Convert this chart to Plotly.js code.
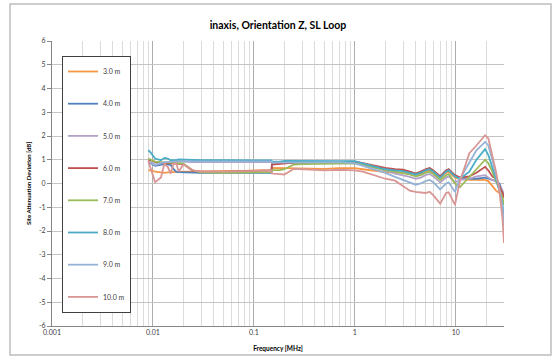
<!DOCTYPE html>
<html>
<head>
<meta charset="utf-8">
<script src="https://cdn.plot.ly/plotly-3.0.1.min.js"></script>
<style>
html,body{margin:0;padding:0;background:#fff;}
#chart{width:560px;height:362px;}
</style>
</head>
<body>
<div id="chart"></div>
<script>
// Frequency points [MHz]
var freq = [0.009, 0.0095, 0.0105, 0.012, 0.013, 0.014, 0.015, 0.016, 0.017, 0.018, 0.02, 0.025, 0.03, 0.05, 0.08, 0.1, 0.149, 0.151, 0.18, 0.2, 0.25, 0.3, 0.5, 0.7, 1, 1.2, 1.5, 2, 2.5, 3, 3.5, 4, 4.5, 5, 5.5, 6, 7, 8, 8.5, 9, 9.8, 11, 13.6, 16, 19.5, 21, 23, 25, 27, 29, 30];

var names = ["3.0 m", "4.0 m", "5.0 m", "6.0 m", "7.0 m", "8.0 m", "9.0 m", "10.0 m"];

var d3m  = [0.55, 0.56, 0.5, 0.45, 0.45, 0.47, 0.48, 0.48, 0.5, 0.5, 0.5, 0.5, 0.5, 0.52, 0.53, 0.55, 0.56, 0.66, 0.65, 0.65, 0.64, 0.63, 0.62, 0.65, 0.65, 0.6, 0.54, 0.48, 0.46, 0.45, 0.4, 0.35, 0.4, 0.5, 0.55, 0.45, 0.25, 0.45, 0.5, 0.4, 0.25, 0.2, 0.15, 0.15, 0.15, 0.1, -0.1, -0.3, -0.4, -0.5, -0.6];
var d4m  = [0.85, 0.85, 0.75, 0.8, 0.82, 0.8, 0.78, 0.6, 0.5, 0.48, 0.47, 0.45, 0.45, 0.45, 0.45, 0.45, 0.45, 0.85, 0.86, 0.86, 0.87, 0.88, 0.88, 0.9, 0.9, 0.83, 0.72, 0.6, 0.56, 0.55, 0.48, 0.42, 0.48, 0.58, 0.63, 0.52, 0.3, 0.55, 0.6, 0.48, 0.33, 0.25, 0.2, 0.2, 0.25, 0.2, 0.15, 0.1, 0.0, -0.3, -0.5];
var d5m  = [0.95, 0.9, 0.78, 0.85, 0.88, 0.87, 0.9, 0.9, 0.92, 0.93, 0.92, 0.9, 0.9, 0.9, 0.9, 0.9, 0.9, 0.86, 0.86, 0.88, 0.9, 0.9, 0.9, 0.9, 0.88, 0.8, 0.7, 0.55, 0.42, 0.36, 0.28, 0.2, 0.25, 0.35, 0.4, 0.3, 0.05, 0.25, 0.3, 0.2, 0.05, 0.15, 0.2, 0.3, 0.35, 0.25, 0.15, 0.1, -0.1, -0.3, -0.6];
var d6m  = [1.0, 0.98, 0.9, 0.87, 0.88, 0.86, 0.85, 0.85, 0.84, 0.84, 0.82, 0.52, 0.5, 0.5, 0.52, 0.53, 0.55, 0.8, 0.83, 0.86, 0.88, 0.88, 0.9, 0.92, 0.92, 0.86, 0.76, 0.66, 0.6, 0.58, 0.5, 0.42, 0.5, 0.6, 0.65, 0.55, 0.3, 0.55, 0.6, 0.5, 0.35, 0.25, 0.3, 0.45, 0.7, 0.55, 0.3, 0.2, -0.1, -0.4, -0.6];
var d7m  = [1.05, 1.0, 0.92, 0.9, 0.9, 0.9, 0.88, 0.88, 0.87, 0.86, 0.84, 0.55, 0.47, 0.45, 0.46, 0.47, 0.48, 0.56, 0.56, 0.6, 0.8, 0.82, 0.83, 0.85, 0.85, 0.78, 0.68, 0.56, 0.5, 0.45, 0.38, 0.3, 0.35, 0.45, 0.5, 0.4, 0.15, 0.35, 0.4, 0.25, 0.0, -0.15, 0.3, 0.6, 1.0, 0.85, 0.5, 0.1, -0.2, -0.6, -0.9];
var d8m  = [1.4, 1.3, 1.05, 0.98, 1.08, 1.05, 0.98, 0.97, 0.98, 1.01, 1.0, 0.98, 0.98, 0.98, 0.98, 0.97, 0.97, 0.93, 0.92, 0.95, 0.95, 0.95, 0.95, 0.97, 0.94, 0.85, 0.75, 0.6, 0.55, 0.52, 0.45, 0.38, 0.45, 0.55, 0.6, 0.5, 0.25, 0.5, 0.55, 0.45, 0.3, 0.2, 0.5, 1.0, 1.45, 1.2, 0.7, 0.2, -0.3, -0.9, -1.5];
var d9m  = [0.9, 0.88, 0.8, 0.88, 0.9, 0.9, 0.92, 0.93, 0.93, 0.94, 0.93, 0.93, 0.93, 0.93, 0.93, 0.93, 0.93, 0.88, 0.88, 0.9, 0.9, 0.9, 0.9, 0.9, 0.85, 0.75, 0.62, 0.45, 0.28, 0.15, 0.05, -0.05, 0.0, 0.1, 0.15, 0.05, -0.25, 0.0, 0.05, -0.1, -0.35, 0.2, 0.9, 1.4, 1.75, 1.6, 1.0, 0.4, -0.2, -1.0, -1.8];
var d10m = [0.95, 0.6, 0.05, 0.25, 0.84, 0.7, 0.42, 0.84, 0.85, 0.5, 0.8, 0.55, 0.5, 0.5, 0.52, 0.53, 0.55, 0.42, 0.4, 0.38, 0.62, 0.6, 0.55, 0.58, 0.55, 0.5, 0.38, 0.2, 0.12, -0.1, -0.3, -0.35, -0.38, -0.4, -0.35, -0.5, -0.85, -0.4, -0.37, -0.6, -0.9, 0.1, 1.28, 1.6, 2.03, 1.9, 1.2, 0.5, -0.3, -1.5, -2.5];

var series = [d3m, d4m, d5m, d6m, d7m, d8m, d9m, d10m];
var colors = ["#F79646", "#4F81BD", "#B3A2C7", "#C0504D", "#9BBB59", "#4BACC6", "#95B3D7", "#D99694"];

var xTickVals = [0.001, 0.01, 0.1, 1, 10];
var xTickText = ["0.001", "0.01", "0.1", "1", "10"];
var yTickVals = [-6, -5, -4, -3, -2, -1, 0, 1, 2, 3, 4, 5, 6];
var yTickText = ["-6", "-5", "-4", "-3", "-2", "-1", "0", "1", "2", "3", "4", "5", "6"];

var FONT = "Lato, 'Open Sans', sans-serif";

var traces = series.map(function (s, i) {
  return {
    x: freq, y: s, name: names[i], type: "scatter", mode: "lines",
    line: {color: colors[i], width: 1.8},
    legendgroup: "g" + i
  };
});

// plot area: x 52..504, y 41..326
var L = 52, R = 56, T = 41, B = 36, W = 560, H = 362;
var pw = W - L - R, ph = H - T - B;
function px(x) { return (x - L) / pw; }
function py(y) { return (H - B - y) / ph; }

var layout = {
  width: W, height: H,
  margin: {l: L, r: R, t: T, b: B, pad: 0},
  paper_bgcolor: "#fff", plot_bgcolor: "#fff",
  font: {family: FONT, size: 7, color: "#404040"},
  title: {text: "<b>inaxis, Orientation Z, SL Loop</b>", font: {family: FONT, size: 10.5, color: "#000"},
          x: 0.5, xref: "paper", xanchor: "center", y: 1 - 25 / H, yanchor: "middle"},
  xaxis: {
    type: "log", range: [-3, Math.log10(30)],
    tickmode: "array", tickvals: xTickVals, ticktext: xTickText,
    showgrid: true, gridcolor: "#ADADAD", gridwidth: 1,
    minor: {dtick: "D1", showgrid: true, gridcolor: "#DCDCDC", gridwidth: 1, ticks: ""},
    showline: true, linecolor: "#868686", linewidth: 1,
    ticks: "", zeroline: false,
    tickfont: {family: FONT, size: 7, color: "#404040"},
    title: {text: "<b>Frequency [MHz]</b>", font: {family: FONT, size: 6.5, color: "#000"}, standoff: 11}
  },
  yaxis: {
    range: [-6, 6], tickmode: "array", tickvals: yTickVals, ticktext: yTickText,
    showgrid: true, gridcolor: "#C4C4C4", gridwidth: 1,
    showline: true, linecolor: "#868686", linewidth: 1,
    ticks: "outside", ticklen: 4, tickcolor: "#868686", zeroline: false,
    tickfont: {family: FONT, size: 7, color: "#404040"},
    title: {text: "<b>Site Attenuation Deviation [dB]</b>", font: {family: FONT, size: 6, color: "#000"}, standoff: 6}
  },
  showlegend: true,
  legend: {
    x: px(62), xanchor: "left", y: py(56), yanchor: "top",
    bgcolor: "#fff", bordercolor: "#404040", borderwidth: 1,
    traceorder: "grouped", tracegroupgap: 13.2,
    font: {family: FONT, size: 7, color: "#404040"},
    itemwidth: 30
  },
  shapes: [{
    type: "rect", xref: "paper", yref: "paper",
    x0: px(10), x1: px(551), y0: py(355), y1: py(4),
    line: {color: "#BDBDBD", width: 1.5}, fillcolor: "rgba(0,0,0,0)", layer: "below"
  }]
};

Plotly.newPlot("chart", traces, layout, {displayModeBar: false, staticPlot: true});
</script>
</body>
</html>
